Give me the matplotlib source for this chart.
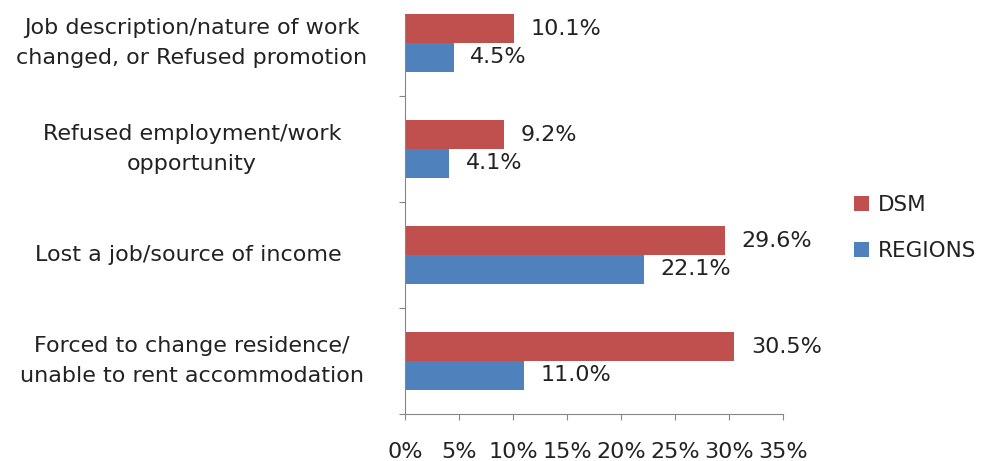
import numpy as np
import matplotlib
matplotlib.use("Agg")
from matplotlib import pyplot as plt
from matplotlib.ticker import FuncFormatter

# categories bottom -> top
categories = [
    "Forced to change residence/\nunable to rent accommodation",
    "Lost a job/source of income ",
    "Refused employment/work\nopportunity",
    "Job description/nature of work\nchanged, or Refused promotion",
]
dsm = [30.5, 29.6, 9.2, 10.1]
regions = [11.0, 22.1, 4.1, 4.5]
x_ticks = [0, 5, 10, 15, 20, 25, 30, 35]

red = "#C0504D"
blue = "#4F81BD"
grey = "#868686"
txt = "#222222"

plt.rcParams['font.family'] = ['DejaVu Sans']
fs = 16

fig = plt.figure(figsize=(9.83, 4.61), dpi=100)
ax = fig.add_axes([405/983, (461-414)/461, (783-405)/983, 424/461])

y = np.arange(len(categories))
h = 0.27
b1 = ax.barh(y + h/2, dsm, height=h, color=red, label="DSM")
b2 = ax.barh(y - h/2, regions, height=h, color=blue, label="REGIONS")

for bars, vals in [(b1, dsm), (b2, regions)]:
    for rect, v in zip(bars, vals):
        ax.text(v + 1.55, rect.get_y() + h/2, f"{v:.1f}%", va="center", ha="left",
                fontsize=fs, color=txt)

ax.set_xlim(0, 35)
ax.set_ylim(-0.5, 3.5)
ax.set_xticks(x_ticks)
ax.xaxis.set_major_formatter(FuncFormatter(lambda v, p: f"{v:.0f}%"))
ax.set_yticks(np.arange(-0.5, 3.6, 1.0))
ax.set_yticklabels([])
for yc, lab in zip(y, categories):
    ax.text(-0.5635, yc, lab, transform=ax.get_yaxis_transform(), ha="center",
            va="center", fontsize=fs, color=txt, linespacing=1.6,
            multialignment="center")

for s in ["top", "right"]:
    ax.spines[s].set_visible(False)
for s in ["left", "bottom"]:
    ax.spines[s].set_color(grey)
ax.spines['left'].set_bounds(-0.5, 3.5 - 25/106)
ax.tick_params(axis="both", colors=grey, length=4, direction="out")
ax.tick_params(axis="x", labelsize=fs, labelcolor=txt, pad=16)

leg = fig.legend(handles=[b1, b2], loc="center left", bbox_to_anchor=(854/983, 1 - 228/461),
                 frameon=False, fontsize=15.5, handlelength=0.7, handleheight=0.7,
                 handletextpad=0.4, labelspacing=1.2, labelcolor=txt,
                 borderpad=0, borderaxespad=0)

fig.savefig("out.png", dpi=100)
